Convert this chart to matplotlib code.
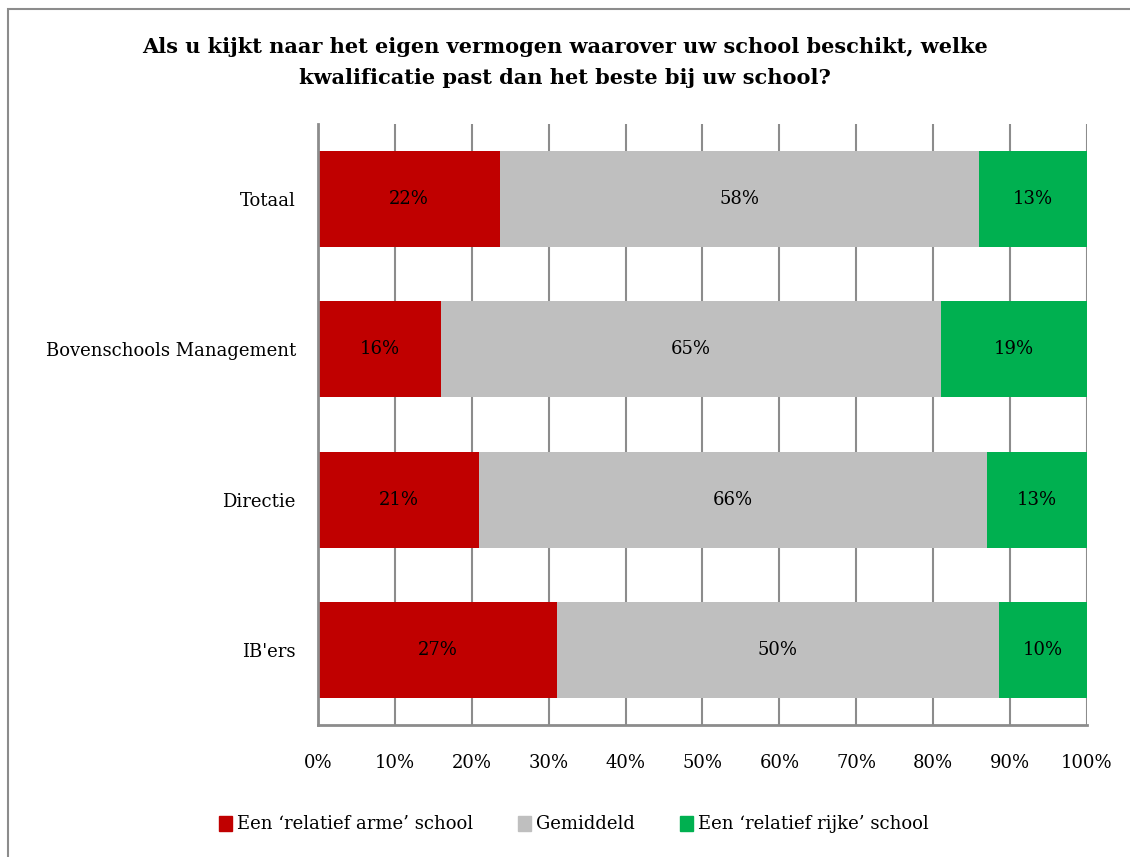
import numpy as np
import matplotlib.pyplot as plt
from matplotlib.patches import Patch, Rectangle

plt.rcParams['font.family'] = ['DejaVu Serif']

categories = ['Totaal', 'Bovenschools Management', 'Directie', "IB'ers"]
arm = np.array([22, 16, 21, 27])
gemiddeld = np.array([58, 65, 66, 50])
rijk = np.array([13, 19, 13, 10])
series_names = ["Een \u2018relatief arme\u2019 school", "Gemiddeld", "Een \u2018relatief rijke\u2019 school"]
colors = ['#C00000', '#BFBFBF', '#00B050']

total = arm + gemiddeld + rijk
shares = [arm / total * 100, gemiddeld / total * 100, rijk / total * 100]
values = [arm, gemiddeld, rijk]

fig = plt.figure(figsize=(11.3, 8.57), dpi=100)
ax = fig.add_axes([0.2814, 0.154, 0.6805, 0.7013])

y = np.arange(len(categories))
left = np.zeros(len(categories))
for share, val, col in zip(shares, values, colors):
    bars = ax.barh(y, share, left=left, height=0.64, color=col, zorder=2)
    for b, v in zip(bars, val):
        ax.text(b.get_x() + b.get_width() / 2, b.get_y() + b.get_height() / 2,
                f'{v}%', ha='center', va='center', fontsize=13, zorder=3)
    left += share

ax.set_xlim(0, 100)
ax.set_ylim(len(categories) - 0.5, -0.5)
ax.set_xticks(np.arange(0, 101, 10))
ax.set_xticklabels([f'{t}%' for t in range(0, 101, 10)], fontsize=13)
ax.set_yticks(y)
ax.set_yticklabels(categories, fontsize=13)
ax.tick_params(axis='x', length=0, pad=21)
ax.tick_params(axis='y', length=0, pad=16)
ax.grid(axis='x', color='#8C8C8C', linewidth=1.5, zorder=0)
for s in ['top', 'right']:
    ax.spines[s].set_visible(False)
for s in ['left', 'bottom']:
    ax.spines[s].set_color('#8C8C8C')
    ax.spines[s].set_linewidth(2)

fig.suptitle('Als u kijkt naar het eigen vermogen waarover uw school beschikt, welke\n'
             'kwalificatie past dan het beste bij uw school?',
             fontsize=15, fontweight='bold', y=0.957, linespacing=1.72)

handles = [Patch(color=c) for c in colors]
fig.legend(handles, series_names, loc='center', bbox_to_anchor=(0.508, 0.038), ncol=3,
           frameon=False, fontsize=13, handlelength=0.7, handleheight=0.9,
           handletextpad=0.3, columnspacing=2.5)

fig.add_artist(Rectangle((8 / 1130, -0.1), 1.2, 1.1 - 9 / 857, transform=fig.transFigure,
                         fill=False, edgecolor='#8C8C8C', linewidth=1.5))

fig.savefig('out.png', dpi=100)
